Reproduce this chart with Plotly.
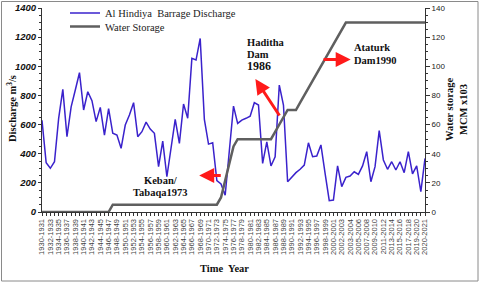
import plotly.graph_objects as go

tick_labels = ["1930-1931","1932-1933","1934-1935","1936-1937","1938-1939","1940-1941",
               "1942-1943","1944-1945","1946-1947","1948-1949","1950-1951","1952-1953",
               "1954-1955","1956-1957","1958-1959","1960-1961","1962-1963","1964-1965",
               "1966-1967","1968-1969","1970-1971","1972-1973","1974-1975","1976-1977",
               "1978-1979","1980-1981","1982-1983","1984-1985","1986-1987","1988-1989",
               "1990-1991","1992-1993","1994-1995","1996-1997","1998-1999","2000-2001",
               "2002-2003","2003-2004","2005-2006","2007-2008","2009-2010","2011-2012",
               "2013-2014","2015-2016","2017-2018","2019-2020","2020-2021"]

discharge = [630,338,300,345,643,842,517,722,837,956,
             700,825,764,620,718,528,709,540,528,437,
             597,665,750,517,551,617,569,540,311,487,
             242,448,636,471,741,643,1054,1043,1191,636,
             466,475,215,192,115,420,727,608,631,643,
             658,750,734,334,482,316,379,871,734,208,
             242,270,293,322,475,379,384,460,265,78,
             82,316,174,238,247,276,258,316,414,208,
             311,558,357,293,345,288,345,270,414,261,
             316,139,368]

storage = [0,0,0,0,0,0,0,0,0,0,0,0,0,0,0,0,0,
           5,5,5,5,5,5,5,5,5,5,5,5,5,5,5,5,5,5,5,5,5,5,5,5,5,5,
           10,22,34,45,
           50,50,50,50,50,50,50,50,50,
           55,60,65,
           70,70,70,
           75,80,85,90,95,100,105,110,115,120,125,130,
           130,130,130,130,130,130,130,130,130,130,130,130,130,130,130,130,130,130,130]

x_idx = list(range(len(discharge)))
tick_pos = x_idx[::2]

SERIF = "Times New Roman, Liberation Serif, serif"
SANS = "Arial, Liberation Sans, sans-serif"

fig = go.Figure()
fig.add_trace(go.Scatter(x=x_idx, y=discharge, mode="lines",
                         name="Al Hindiya  Barrage Discharge", legend="legend",
                         line=dict(color="#3a22cc", width=1.5)))
fig.add_trace(go.Scatter(x=x_idx, y=storage, mode="lines", name="Water Storage",
                         yaxis="y2", legend="legend2",
                         line=dict(color="#5f5f5f", width=2.5)))

def px2x(px):
    return (px - 42.3) / 4.15

def py2y(py):
    return (212 - py) * 1400 / 204

annots = []

def txt(px, py, s, size=10, anchor="left"):
    annots.append(dict(x=px2x(px), y=py2y(py), xref="x", yref="y", text=s, showarrow=False,
                       xanchor=anchor, yanchor="middle",
                       font=dict(family=SERIF, size=size, color="#111", weight="bold")))

txt(245, 42, "Haditha", 10.5)
txt(245, 54, "Dam", 10.5)
txt(245, 65.5, "1986", 12)
txt(351, 47, "Ataturk", 10.5)
txt(351, 60, "Dam1990", 10.5)
txt(161, 180, "Keban/", 10.5, "center")
txt(160, 192.5, "Tabaqa1973", 10.5, "center")

def arrow(tx, ty, hx, hy):
    annots.append(dict(x=px2x(hx), y=py2y(hy), ax=px2x(tx), ay=py2y(ty),
                       xref="x", yref="y", axref="x", ayref="y", text="",
                       showarrow=True, arrowhead=2, arrowsize=1, arrowwidth=3,
                       arrowcolor="#ff1a1a"))

arrow(280, 117, 255, 79)
arrow(321.5, 59.5, 350, 59.5)
arrow(222, 175.5, 199, 175.5)

# axis titles
annots.append(dict(x=(11 - 42) / 383, y=(212 - 109) / 204, xref="paper", yref="paper",
                   xanchor="center", yanchor="middle",
                   text="Discharge m<sup>3</sup>/s", textangle=-90, showarrow=False,
                   font=dict(family=SERIF, size=10.5, color="#111", weight="bold")))
annots.append(dict(x=(456 - 42) / 383, y=(212 - 110) / 204, xref="paper", yref="paper",
                   xanchor="center", yanchor="middle",
                   text="Water storage<br>MCM x103", textangle=-90, showarrow=False,
                   font=dict(family=SERIF, size=10.5, color="#111", weight="bold")))
annots.append(dict(x=(224 - 42) / 383, y=(212 - 268) / 204, xref="paper", yref="paper",
                   xanchor="center", yanchor="middle",
                   text="Time  Year", showarrow=False,
                   font=dict(family=SERIF, size=10.5, color="#111", weight="bold")))

leg_common = dict(xanchor="left", yanchor="middle", bgcolor="rgba(0,0,0,0)",
                  font=dict(family=SERIF, size=10.5, color="#222"), itemwidth=30)

fig.update_layout(
    width=480, height=283,
    margin=dict(l=42, r=55, t=8, b=71, autoexpand=False),
    paper_bgcolor="white", plot_bgcolor="white",
    showlegend=True,
    legend=dict(x=(65 - 42) / 383, y=(212 - 13) / 204, **leg_common),
    legend2=dict(x=(65 - 42) / 383, y=(212 - 26.5) / 204, **leg_common),
    annotations=annots,
    xaxis=dict(range=[0, len(discharge) - 1], tickmode="array", tickvals=tick_pos,
               ticktext=tick_labels, tickangle=-90, showgrid=False, zeroline=False,
               showline=True, linecolor="#333", linewidth=1, ticks="outside", ticklen=3,
               tickcolor="#333", tickfont=dict(family=SANS, size=7.5, color="#444"),
               automargin=False,
               minor=dict(tickmode="linear", tick0=0, dtick=1, ticks="outside", ticklen=3,
                          tickcolor="#333")),
    yaxis=dict(range=[0, 1400], dtick=200, showgrid=False, zeroline=False, showline=True,
               linecolor="#333", linewidth=1, ticks="outside", ticklen=3, tickcolor="#333",
               automargin=False,
               tickfont=dict(family=SANS, size=9.5, color="#111", weight="bold", style="italic"),
               minor=dict(dtick=50, ticks="outside", ticklen=2, tickcolor="#333")),
    yaxis2=dict(range=[0, 140], dtick=20, overlaying="y", side="right", showgrid=False,
                zeroline=False, showline=True, linecolor="#333", linewidth=1,
                ticks="outside", ticklen=4, tickcolor="#333", automargin=False,
                tickfont=dict(family=SANS, size=8, color="#222"),
                minor=dict(dtick=5, ticks="outside", ticklen=2, tickcolor="#333")),
    shapes=[dict(type="rect", xref="paper", yref="paper",
                 x0=(1.5 - 42) / 383, x1=(478 - 42) / 383,
                 y0=(212 - 281) / 204, y1=(212 - 1.5) / 204,
                 line=dict(color="#8a8a8a", width=1), fillcolor="rgba(0,0,0,0)")],
)

fig.write_html("out.html", config={"displayModeBar": False},
               post_script="document.body.style.margin='0';")
